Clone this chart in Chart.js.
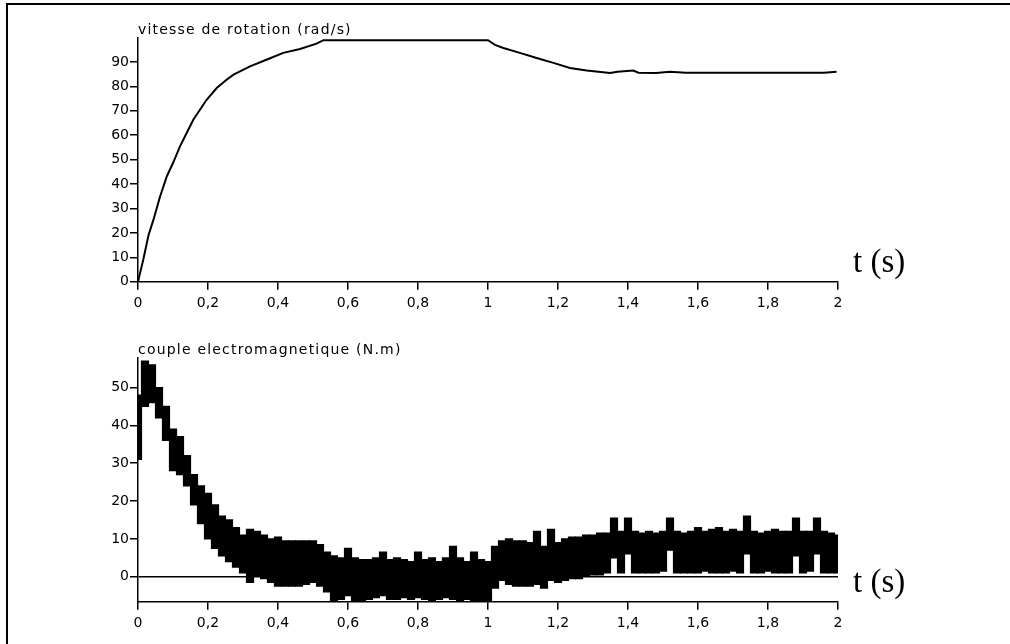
<!DOCTYPE html>
<html>
<head>
<meta charset="utf-8">
<script src="https://cdn.jsdelivr.net/npm/chart.js@4"></script>
<style>
  body { margin: 0; background: #fff; }
  #wrap { position: relative; width: 1010px; height: 644px; overflow: hidden; }
  #frame { position: absolute; left: 6px; top: 3px; width: 1100px; height: 700px;
           border-left: 2px solid #000; border-top: 2px solid #000; }
  canvas { position: absolute; left: 0; }
  #speedChart { top: 0; }
  #torqueChart { top: 322px; }
</style>
</head>
<body>
<div id="wrap">
  <div id="frame"></div>
  <canvas id="speedChart" width="1010" height="322"></canvas>
  <canvas id="torqueChart" width="1010" height="322"></canvas>
</div>
<script>
// --- data ---
const speedTitle = "vitesse de rotation (rad/s)";
const torqueTitle = "couple electromagnetique (N.m)";
const timeLabel = "t (s)";

// vitesse (rad/s)
const speedTimes = [0, 0.005, 0.015, 0.03, 0.044, 0.063, 0.082, 0.1, 0.12, 0.139, 0.158, 0.177, 0.196,
  0.225, 0.253, 0.273, 0.32, 0.367, 0.415, 0.463, 0.51, 0.53, 1.0, 1.02, 1.044, 1.091, 1.139, 1.187,
  1.234, 1.282, 1.349, 1.37, 1.415, 1.43, 1.48, 1.52, 1.565, 1.96, 1.996];
const speedValues = [0, 3, 9, 19, 25.3, 34.9, 43, 48.6, 55.4, 60.9, 66.3, 70.4, 74.5,
  79.3, 82.7, 84.8, 88.2, 90.9, 93.7, 95.3, 97.5, 98.9, 98.9, 97, 95.7, 93.7, 91.6, 89.6,
  87.5, 86.5, 85.5, 86, 86.5, 85.6, 85.5, 86, 85.6, 85.6, 86];

// couple (N.m): low / high edge of the noisy band, every 0.02 s from 0 to 2
const torqueTimes = [0, 0.02, 0.04, 0.06, 0.08, 0.1, 0.12, 0.14, 0.16, 0.18, 0.2, 0.22, 0.24, 0.26, 0.28,
  0.3, 0.32, 0.34, 0.36, 0.38, 0.4, 0.42, 0.44, 0.46, 0.48, 0.5, 0.52, 0.54, 0.56, 0.58,
  0.6, 0.62, 0.64, 0.66, 0.68, 0.7, 0.72, 0.74, 0.76, 0.78, 0.8, 0.82, 0.84, 0.86, 0.88,
  0.9, 0.92, 0.94, 0.96, 0.98, 1.0, 1.02, 1.04, 1.06, 1.08, 1.1, 1.12, 1.14, 1.16, 1.18,
  1.2, 1.22, 1.24, 1.26, 1.28, 1.3, 1.32, 1.34, 1.36, 1.38, 1.4, 1.42, 1.44, 1.46, 1.48,
  1.5, 1.52, 1.54, 1.56, 1.58, 1.6, 1.62, 1.64, 1.66, 1.68, 1.7, 1.72, 1.74, 1.76, 1.78,
  1.8, 1.82, 1.84, 1.86, 1.88, 1.9, 1.92, 1.94, 1.96, 1.98, 2.0];
const torqueHigh = [48, 57, 56, 50, 45, 39, 37, 32, 27, 24, 22, 19, 16, 15, 13,
  11, 12.5, 12, 11, 10, 10.5, 9.5, 9.5, 9.5, 9.5, 9.5, 8.5, 6.5, 5.5, 5,
  7.5, 5, 4.5, 4.5, 5, 6.5, 4.5, 5, 4.5, 4, 6.5, 4.5, 5, 4, 5,
  8, 5, 4, 6.5, 4.5, 4, 8, 9.5, 10, 9.5, 9.5, 9, 12, 8, 12.5,
  9, 10, 10.5, 10.5, 11, 11, 11.5, 11.5, 15.5, 12, 15.5, 12, 11.5, 12, 11.5,
  12, 15.5, 12, 11.5, 12, 13, 12, 12.5, 13, 12, 12.5, 12, 16, 12, 11.5,
  12, 12.5, 12, 12, 15.5, 12, 12, 15.5, 12, 11.5, 11];
const torqueLow = [31, 45, 46, 42, 36, 28, 27, 24, 19, 14, 10, 7.5, 5.5, 4, 2.5,
  1, -1.5, 0, -0.5, -1.5, -2.5, -2.5, -2.5, -2.5, -2, -1.5, -2.5, -4, -6.5, -6,
  -5, -6.5, -6.5, -6, -5.5, -5, -6, -6, -5.5, -6, -5.5, -6, -6.5, -6, -5.5,
  -6, -6.5, -6, -6.5, -6.5, -6.5, -3, -1, -2, -2.5, -2.5, -2.5, -2, -3, -1,
  -1.5, -1, -0.5, -0.5, 0, 0.5, 0.5, 1, 5, 1, 6, 1, 1, 1, 1,
  1.5, 7, 1, 1, 1, 1, 1.5, 1, 1, 1, 1.5, 1, 6, 1, 1,
  1.5, 1, 1, 1, 5.5, 1, 1.5, 6, 1, 1, 1];

const xTicks = [0, 0.2, 0.4, 0.6, 0.8, 1, 1.2, 1.4, 1.6, 1.8, 2];
const speedTicks = [0, 10, 20, 30, 40, 50, 60, 70, 80, 90];
const torqueTicks = [0, 10, 20, 30, 40, 50];

// --- shared styling ---
const INK = "#000";
const tickFont = { family: "DejaVu Sans", size: 14 };

// title over the plot + "t (s)" at the end of the time axis
const textPlugin = {
  id: "plotTexts",
  afterDraw(chart, args, opts) {
    const { ctx, chartArea } = chart;
    ctx.save();
    ctx.fillStyle = INK;
    ctx.textAlign = "left";
    ctx.textBaseline = "alphabetic";
    ctx.font = "14px 'DejaVu Sans'";
    ctx.letterSpacing = "1.2px";
    ctx.fillText(opts.title, chartArea.left, chartArea.top - 4.5);
    ctx.letterSpacing = "0px";
    ctx.font = "33px 'Liberation Serif'";
    ctx.fillText(timeLabel, chartArea.right + 15, chartArea.bottom - 10);
    ctx.restore();
  },
};

function makeScales(yMin, yMax, yTicks, xAxisHeight, zeroLine) {
  return {
    x: {
      type: "linear",
      min: 0,
      max: 2,
      offset: false,
      afterBuildTicks: (s) => { s.ticks = xTicks.map((v) => ({ value: v })); },
      ticks: {
        font: tickFont,
        color: INK,
        padding: 5,
        maxRotation: 0,
        autoSkip: false,
        callback: (v) => String(Math.round(v * 10) / 10).replace(".", ","),
      },
      grid: { drawOnChartArea: false, offset: false, tickLength: 8, color: INK, lineWidth: 1.5 },
      border: { display: true, color: INK, width: 1.5 },
      afterFit: (s) => { s.height = xAxisHeight; },
    },
    y: {
      min: yMin,
      max: yMax,
      afterBuildTicks: (s) => { s.ticks = yTicks.map((v) => ({ value: v })); },
      ticks: { font: tickFont, color: INK, padding: 1 },
      grid: {
        drawOnChartArea: zeroLine,
        color: (c) => (zeroLine && c.tick && c.tick.value === 0 ? INK : "rgba(0,0,0,0)"),
        tickColor: INK,
        tickLength: 8,
        lineWidth: 1.5,
      },
      border: { display: true, color: INK, width: 1.5 },
      afterFit: (s) => { s.width = 138; },
    },
  };
}

const baseOptions = {
  responsive: false,
  animation: false,
  events: [],
  elements: { point: { radius: 0 } },
};

// --- vitesse de rotation ---
new Chart(document.getElementById("speedChart"), {
  type: "line",
  data: {
    datasets: [{
      data: speedTimes.map((t, i) => ({ x: t, y: speedValues[i] })),
      borderColor: INK,
      borderWidth: 2,
      tension: 0,
      fill: false,
    }],
  },
  options: {
    ...baseOptions,
    layout: { padding: { top: 38, right: 172, left: 0, bottom: 0 } },
    plugins: { legend: { display: false }, tooltip: { enabled: false }, plotTexts: { title: speedTitle } },
    scales: makeScales(0, 99.8, speedTicks, 40.3, false),
  },
  plugins: [textPlugin],
});

// --- couple electromagnetique: the band as floating bars [low, high] ---
new Chart(document.getElementById("torqueChart"), {
  type: "bar",
  data: {
    datasets: [{
      data: torqueTimes.map((t, i) => ({ x: t, y: [torqueLow[i], torqueHigh[i]] })),
      backgroundColor: INK,
      borderWidth: 0,
      borderSkipped: false,
      barPercentage: 1,
      categoryPercentage: 1,
      inflateAmount: 0.6,
    }],
  },
  options: {
    ...baseOptions,
    layout: { padding: { top: 36, right: 172, left: 0, bottom: 0 } },
    plugins: { legend: { display: false }, tooltip: { enabled: false }, plotTexts: { title: torqueTitle } },
    scales: makeScales(-6.6, 57.8, torqueTicks, 42.3, true),
  },
  plugins: [textPlugin],
});
</script>
</body>
</html>
